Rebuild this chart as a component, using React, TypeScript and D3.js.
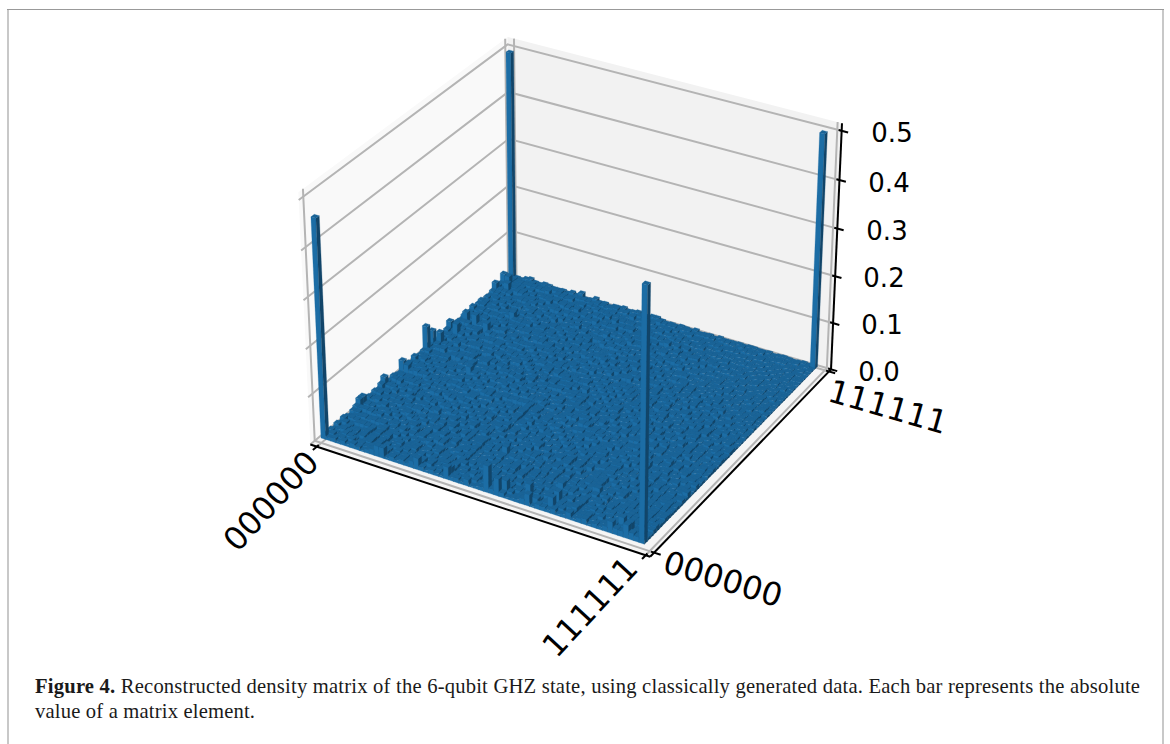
import React from "react";
import * as d3 from "d3";

// Upper triangle of |rho| (row i holds j = i..63), base-36 digits in steps of heightUnit.
const heightUnit = 0.0012;
const upperRows = [
"a5738496 27a46385 96c27485 39684b25 76948356 a4287593 6c48a375 97ba8c96",
"8463927 58a37264 96385b47 29647385 a3694827 57b39468 2749a536 8a7c6985",
"397526 84b36295 47182a65 39476b82 53947286 a4629375 8b357492 69a87b64",
"75284 93a62748 53916478 2b593746 81a46352 97382a64 5937b846 28796a58",
"6294 73815a46 92375186 49b27365 84162957 3a482659 17394b68 52a6897a",
"483 95a27146 83629475 1a384726 95473182 64a93725 4816b395 73285a96",
"72 84593617 42a68315 97246853 1a739264 85314a96 27583164 93748a65",
"5 93618254 7a324169 58327464 19a37285 46182593 74a29163 58473968",
"36492758 14a83526 97314852 64a17395 28461739 52a84136 79524867",
"8251937 46382a15 79436182 53a96247 18352964 7a148352 96374a85",
"639418 27a53946 18273564 a9241738 56392148 7a325691 48276395",
"47215 93846172 5a396284 13752946 a8163425 79318462 53a74896",
"5932 74182a63 49517386 24a96153 72849316 5a273948 16385764",
"274 a3951862 47362915 84173a62 59284137 63a15482 97253648",
"83 15926374 a2846351 79231648 5a372914 68435172 94a62835",
"6 29184a37 52693814 72a58136 49271568 3a642917 53864275",
"37415928 63a14275 38921654 72483a19 56374182 94625373",
"5928361 4a738152 69241837 52a64913 78253146 83a59264",
"173842 59a16374 28534196 27385a14 63917452 86234759",
"46291 83514a27 36951842 71364928 5a382716 49352684",
"7351 29648153 a7249316 58237145 92684a13 57428365",
"294 61835a27 41593628 13746925 38a15264 73946152",
"58 13729465 18a34256 97135284 61749352 a2836475",
"3 71925a48 62314895 13a72654 89263147 52384695",
"62839147 25a61348 97254163 38a14725 96314257",
"1957324 68143a92 75316248 95173624 82a53164",
"846215 37a92461 38572914 63281a45 97263415",
"29573 18462953 a1374862 51937264 18352947",
"6138 2947a153 62819375 42683159 27461385",
"472 16395824 7a136285 41927536 18342764",
"93 51284736 19452a63 81726493 52184637",
"2 68413972 51638249 17352a46 83261547",
"47193526 81374962 25813647 92536184",
"8315264 72946138 51624937 28153462",
"261847 35192674 83241596 37281453",
"59243 16738425 91362748 15248362",
"3716 42853197 26418352 73162534",
"284 61937245 13582641 93724153",
"17 52386149 27361845 12573462",
"6 31428573 14926351 83241635",
"24163758 31482596 13724251",
"5371284 16295343 81425362",
"182634 51372846 21354263",
"36251 42815373 12642351",
"4172 63152483 52136214",
"253 71426315 34125362",
"61 32541723 14263152",
"3 25143264 13524132",
"14235162 31425213",
"3251423 61324152",
"241352 13241523",
"31524 12351423",
"1423 25132412",
"352 14213152",
"21 34125213",
"3 12413221",
"24132312",
"1321423",
"231412",
"13221",
"3142",
"213",
"32",
"2",
];
// Values along the anti-diagonal (i = 1..31, j = 63 - i), same unit.
const antiDiagonal = "87989787 98789878 97879878 9787978";
// Taller off-peak elements seen along the edges: [i, j, value].
const bumps: [number, number, number][] = [
  [0, 33, 0.056], [0, 35, 0.036], [1, 36, 0.03], [0, 25, 0.026], [1, 25, 0.02],
  [0, 19, 0.024], [0, 11, 0.022], [0, 12, 0.022], [0, 41, 0.024], [1, 45, 0.026],
  [2, 40, 0.03], [3, 45, 0.026], [0, 57, 0.024], [1, 60, 0.026], [0, 60, 0.028],
  [2, 58, 0.024], [15, 63, 0.014], [6, 44, 0.022], [8, 50, 0.02], [11, 30, 0.02],
];
// The four GHZ corners: [i, j, value].
const peaks: [number, number, number][] = [
  [0, 0, 0.454], [0, 63, 0.49], [63, 63, 0.492], [63, 0, 0.512],
];
const zTicks = [0, 0.1, 0.2, 0.3, 0.4, 0.5];
const zTickLabels = ["0.0", "0.1", "0.2", "0.3", "0.4", "0.5"];
const xTickLabels = ["000000", "111111"];
const yTickLabels = ["000000", "111111"];
const captionBold = "Figure 4.";
const captionLine1 = " Reconstructed density matrix of the 6-qubit GHZ state, using classically generated data. Each bar represents the absolute";
const captionLine2 = "value of a matrix element.";

const N = 64;
const zMax = 0.512;
const pad = 1 / 48;

// matplotlib's 3D camera: elev 30, azim -60, dist 10, box aspect 4:4:3
const boxHalf = 0.5714;
const boxHalfZ = 0.4286;
function camera(u: number, v: number, t: number): [number, number] {
  const X = (u - 0.5) * 2 * boxHalf;
  const Y = (v - 0.5) * 2 * boxHalf;
  const Z = (t - 0.5) * 2 * boxHalfZ;
  const xv = 0.866 * X + 0.5 * Y;
  const yv = -0.25 * X + 0.433 * Y + 0.866 * Z;
  const d = 0.433 * X - 0.75 * Y + 0.5 * Z;
  return [xv / (10 - d), yv / (10 - d)];
}
const xPix = d3.scaleLinear().domain([camera(0, 0, 0)[0], camera(1, 1, 0)[0]]).range([321, 825]);
const yPix = d3.scaleLinear().domain([camera(1, 0, 0)[1], camera(0, 1, 0)[1]]).range([546, 274]);
const cellScale = d3.scaleLinear().domain([0, N + 1]).range([0, 1]);
const zScale = d3.scaleLinear().domain([0, zMax]).range([0, 1]);
const LO = -pad, HI = 1 + pad - 0.008, T_HI = 0.987;
const zTickScale = d3.scaleLinear().domain([0, 0.5]).range([LO, 0.957]);
type P3 = [number, number, number];
const pr = (p: P3): [number, number] => {
  const [a, b] = camera(p[0], p[1], p[2]);
  return [xPix(a), yPix(b)];
};
const lineGen = d3.line();
const poly = (pts: P3[]) => lineGen(pts.map(pr)) + "Z";
const open = (pts: P3[]) => lineGen(pts.map(pr)) as string;

function buildMatrix(): number[][] {
  const m = d3.range(N).map(() => d3.range(N).map(() => 0));
  upperRows.forEach((row, i) => {
    const s = row.replace(/ /g, "");
    for (let k = 0; k < s.length; k++) {
      const v = parseInt(s[k], 36) * heightUnit;
      m[i][i + k] = v;
      m[i + k][i] = v;
    }
  });
  antiDiagonal.replace(/ /g, "").split("").forEach((c, k) => {
    const i = k + 1;
    const v = parseInt(c, 36) * heightUnit;
    m[i][63 - i] = v;
    m[63 - i][i] = v;
  });
  bumps.forEach(([i, j, v]) => { m[i][j] = v; m[j][i] = v; });
  peaks.forEach(([i, j, v]) => { m[i][j] = v; });
  return m;
}

const TOP = "#1a6396", SIDE_L = "#1c6da5", SIDE_R = "#124569";
const GRID = "#b4b4b4";

function Bars() {
  const m = buildMatrix();
  const out: React.ReactElement[] = [];
  for (let i = 0; i < N; i++) {
    for (let j = N - 1; j >= 0; j--) {
      const u0 = cellScale(i), u1 = cellScale(i + 1), v0 = cellScale(j), v1 = cellScale(j + 1);
      const t = zScale(m[i][j]);
      const left = poly([[u0, v0, 0], [u1, v0, 0], [u1, v0, t], [u0, v0, t]]);
      const right = poly([[u1, v0, 0], [u1, v1, 0], [u1, v1, t], [u1, v0, t]]);
      const top = poly([[u0, v0, t], [u1, v0, t], [u1, v1, t], [u0, v1, t]]);
      out.push(
        <path key={`l${i}-${j}`} d={left} fill={SIDE_L} stroke={SIDE_L} strokeWidth={0.25} />,
        <path key={`r${i}-${j}`} d={right} fill={SIDE_R} stroke={SIDE_R} strokeWidth={0.25} />,
        <path key={`t${i}-${j}`} d={top} fill={TOP} stroke={TOP} strokeWidth={0.25} />
      );
    }
  }
  return <g>{out}</g>;
}

const tickFont = { fontFamily: "'DejaVu Sans'", fill: "#000" };
const Label = ({ x, y, r, size, children }: any) => (
  <text
    transform={`translate(${x},${y}) rotate(${r})`}
    textAnchor="middle"
    dominantBaseline="central"
    fontSize={size}
    {...tickFont}
  >
    {children}
  </text>
);

export default function App() {
  const gridLines: string[] = [];
  zTicks.forEach((z) => {
    const t = zTickScale(z);
    gridLines.push(open([[LO, LO, t], [LO, HI, t], [HI, HI, t]]));
  });
  [0, 1].forEach((u) => gridLines.push(open([[u, LO, LO], [u, HI, LO], [u, HI, T_HI]])));
  [0, 1].forEach((v) => gridLines.push(open([[LO, v, T_HI], [LO, v, LO], [HI, v, LO]])));

  const tickIn = 0.009, tickOut = 0.019;
  const axisWidth = 2;
  return (
    <svg width={1170} height={744} style={{ position: "fixed", left: 0, top: 0, background: "#fff" }}>
      <line x1={8} y1={9} x2={8} y2={744} stroke="#c8c8c8" strokeWidth={2} />
      <line x1={1163} y1={9} x2={1163} y2={744} stroke="#c8c8c8" strokeWidth={2} />
      <line x1={7} y1={9.5} x2={1164} y2={9.5} stroke="#999" strokeWidth={1} />
      {/* panes */}
      <path d={poly([[LO, LO, LO], [LO, HI, LO], [LO, HI, T_HI], [LO, LO, T_HI]])} fill="#f9f9f9" />
      <path d={poly([[LO, HI, LO], [HI, HI, LO], [HI, HI, T_HI], [LO, HI, T_HI]])} fill="#f2f2f2" />
      <path d={poly([[LO, LO, LO], [HI, LO, LO], [HI, HI, LO], [LO, HI, LO]])} fill="#f5f5f5" />
      {/* grid */}
      {gridLines.map((d, k) => (
        <path key={k} d={d} fill="none" stroke={GRID} strokeWidth={2} />
      ))}
      {/* axis lines */}
      <path d={open([[LO, LO, LO], [HI, LO, LO]])} stroke="#000" strokeWidth={axisWidth} fill="none" />
      <path d={open([[HI, LO, LO], [HI, HI, LO]])} stroke="#000" strokeWidth={axisWidth} fill="none" />
      <path d={open([[HI, HI, LO], [HI, HI, T_HI]])} stroke="#000" strokeWidth={axisWidth} fill="none" />
      {/* ticks */}
      {[0, 1].map((u) => (
        <path key={`xt${u}`} d={open([[u, LO + tickIn, LO], [u, LO - tickOut, LO]])} stroke="#000" strokeWidth={axisWidth} fill="none" />
      ))}
      {[0, 1].map((v) => (
        <path key={`yt${v}`} d={open([[HI - tickIn, v, LO], [HI + tickOut, v, LO]])} stroke="#000" strokeWidth={axisWidth} fill="none" />
      ))}
      {zTicks.map((z) => (
        <path key={`zt${z}`} d={open([[HI - tickIn, HI, zTickScale(z)], [HI + tickOut, HI, zTickScale(z)]])} stroke="#000" strokeWidth={axisWidth} fill="none" />
      ))}
      <Bars />
      {/* tick labels */}
      <Label x={271} y={501} r={-47} size={32}>{xTickLabels[0]}</Label>
      <Label x={590} y={607} r={-47} size={32}>{xTickLabels[1]}</Label>
      <Label x={723} y={579} r={17} size={32}>{yTickLabels[0]}</Label>
      <Label x={888} y={407} r={16} size={32}>{yTickLabels[1]}</Label>
      {[372, 325, 278, 231, 183, 133].map((y, k) => (
        <Label key={k} x={[879, 882, 884, 887, 889, 892][k]} y={y} r={0} size={26}>{zTickLabels[k]}</Label>
      ))}
      {/* caption */}
      <text x={35} y={693} fontFamily="'Liberation Serif'" fontSize={20.6} fill="#1a1a1a" textLength={1105} lengthAdjust="spacing" xmlSpace="preserve">
        <tspan fontWeight="bold">{captionBold}</tspan>
        <tspan>{captionLine1}</tspan>
      </text>
      <text x={35} y={718} fontFamily="'Liberation Serif'" fontSize={20.6} fill="#1a1a1a" textLength={220} lengthAdjust="spacing">{captionLine2}</text>
    </svg>
  );
}
